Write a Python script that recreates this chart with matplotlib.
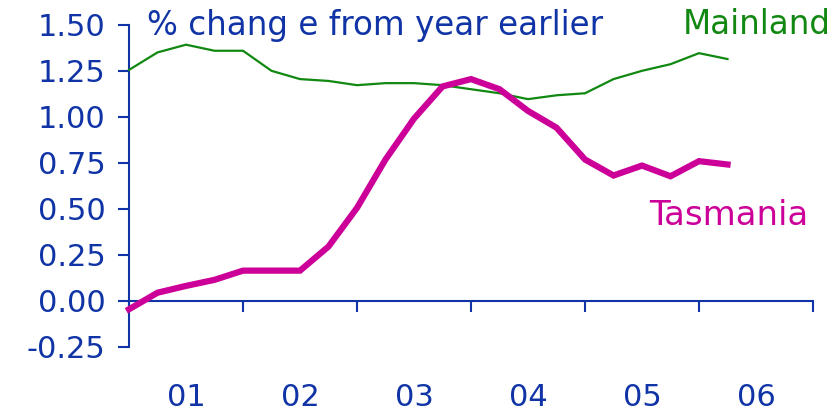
import matplotlib
matplotlib.use("Agg")
import matplotlib.pyplot as plt
import numpy as np

# Quarterly data, 2001Q1 .. 2006Q2
quarters = np.arange(22)
start_year = 2001
tasmania = [-0.045, 0.045, 0.082, 0.115, 0.165, 0.165, 0.165, 0.296, 0.506, 0.769,
            0.991, 1.166, 1.206, 1.151, 1.033, 0.942, 0.769, 0.682, 0.736, 0.678,
            0.760, 0.742]
mainland = [1.256, 1.351, 1.393, 1.360, 1.360, 1.251, 1.206, 1.196, 1.173, 1.184,
            1.184, 1.173, 1.151, 1.129, 1.097, 1.118, 1.129, 1.206, 1.251, 1.287,
            1.347, 1.315]
year_labels = ["01", "02", "03", "04", "05", "06"]
y_ticks = [-0.25, 0.0, 0.25, 0.5, 0.75, 1.0, 1.25, 1.5]

BLUE = "#1034a6"
GREEN = "#118811"
PINK = "#cc0099"

W, H = 837, 411
fig = plt.figure(figsize=(W / 100, H / 100), dpi=100)
ax = fig.add_axes([129 / W, (H - 347) / H, (813 - 129) / W, (347 - 25) / H])

x = start_year + quarters * 0.25
ax.plot(x, mainland, color=GREEN, lw=1.6, solid_joinstyle="miter", clip_on=False, zorder=3)
ax.plot(x, tasmania, color=PINK, lw=4.5, solid_joinstyle="miter", clip_on=False, zorder=4)

ax.set_xlim(2001, 2007)
ax.set_ylim(-0.25, 1.5)

for s in ["top", "right"]:
    ax.spines[s].set_visible(False)
ax.spines["bottom"].set_position(("data", 0))
ax.spines["bottom"].set_color(BLUE)
ax.spines["left"].set_color(BLUE)
ax.spines["bottom"].set_linewidth(1.5)
ax.spines["left"].set_linewidth(1.5)

ax.set_yticks(y_ticks)
ax.set_yticklabels([f"{v:.2f}" for v in y_ticks])
ax.tick_params(axis="y", direction="out", length=8, width=1.5, color=BLUE,
               labelcolor=BLUE, labelsize=22, pad=9)

years = np.arange(2001, 2008)
ax.set_xticks(years)
ax.set_xticklabels([])
ax.tick_params(axis="x", which="major", direction="out", length=8, width=1.5, color=BLUE)
ax.set_xticks(np.arange(2001, 2007) + 0.5, minor=True)
ax.set_xticklabels(year_labels, minor=True)
ax.tick_params(axis="x", which="minor", length=0, labelcolor=BLUE, labelsize=22, pad=59)

fig.text(147 / W, 1 - 25 / H, "% chang e from year earlier", color=BLUE, fontsize=23.5,
         ha="left", va="center")
fig.text(831 / W, 1 - 24 / H, "Mainland", color=GREEN, fontsize=23.5, ha="right", va="center")
fig.text(808 / W, 1 - 215 / H, "Tasmania", color=PINK, fontsize=24.5, ha="right", va="center")

fig.savefig("out.png", dpi=100)
